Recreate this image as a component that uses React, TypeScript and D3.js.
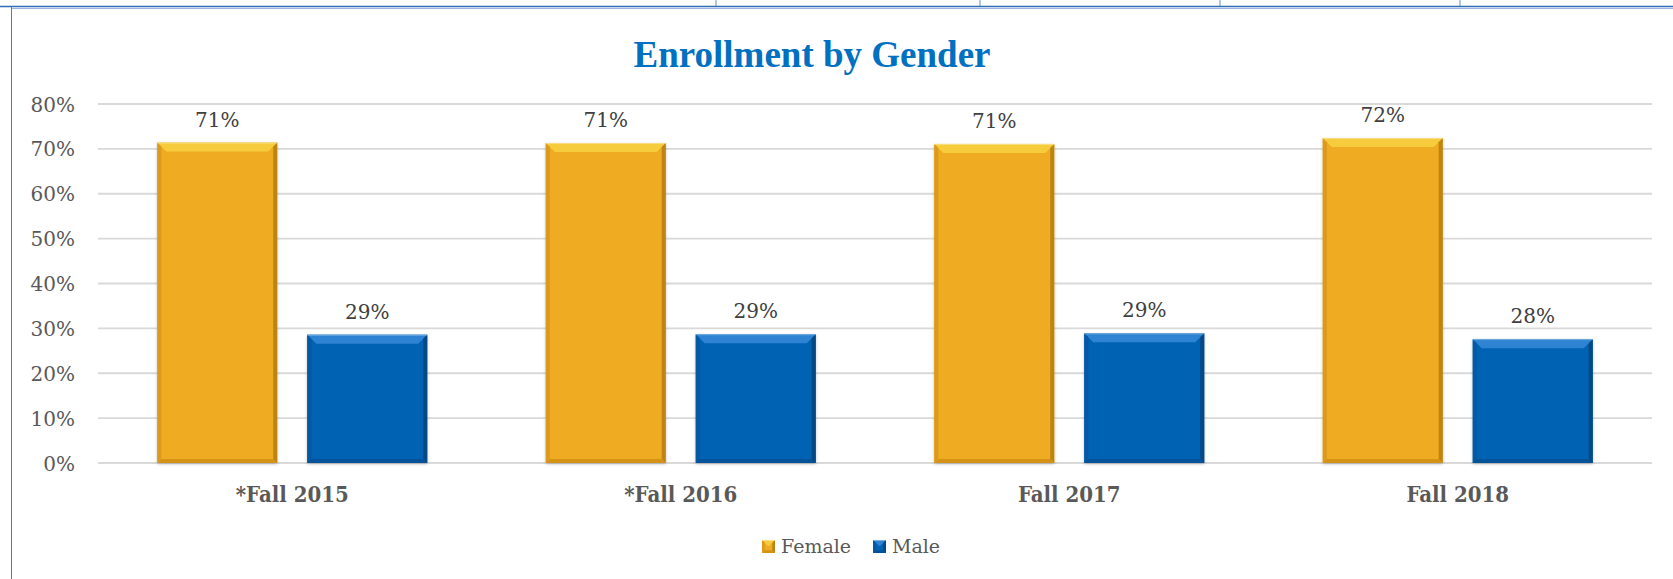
import React from "react";
import * as d3 from "d3";

const categories = ["*Fall 2015", "*Fall 2016", "Fall 2017", "Fall 2018"];
const seriesNames = ["Female", "Male"];
const femaleValues = [0.714, 0.713, 0.711, 0.724];
const maleValues = [0.286, 0.287, 0.289, 0.276];
const yTicks = [0, 0.1, 0.2, 0.3, 0.4, 0.5, 0.6, 0.7, 0.8];
const title = "Enrollment by Gender";

const W = 1673;
const H = 579;
const plot = { left: 98, right: 1652, top: 104, bottom: 463 };

const palette: Record<string, { face: string; top: string; left: string; right: string; bottom: string }> = {
  Female: { face: "#EFAC23", top: "#F6CB3C", left: "#DB9A1C", right: "#BE8412", bottom: "#D49317" },
  Male: { face: "#0662B3", top: "#2E84D2", left: "#0559A4", right: "#044884", bottom: "#0452977" .slice(0, 7) },
};

function BevelRect({ x, y, w, h, s, name, shadow }: { x: number; y: number; w: number; h: number; s: number; name: string; shadow?: boolean }) {
  const c = palette[name];
  const pts = (a: number[][]) => a.map((p) => p.join(",")).join(" ");
  const sd = s * 0.45;
  return (
    <g>
      <rect x={x} y={y} width={w} height={h} fill={c.face} filter={shadow ? "url(#sh)" : undefined} />
      <polygon points={pts([[x, y], [x + w, y], [x + w - s, y + s], [x + s, y + s]])} fill={c.top} />
      <polygon points={pts([[x, y], [x + sd, y + sd], [x + sd, y + h - sd], [x, y + h]])} fill={c.left} />
      <polygon points={pts([[x + w, y], [x + w - sd, y + sd], [x + w - sd, y + h - sd], [x + w, y + h]])} fill={c.right} />
      <polygon points={pts([[x, y + h], [x + sd, y + h - sd], [x + w - sd, y + h - sd], [x + w, y + h]])} fill={c.bottom} />
      <line x1={x} x2={x + w} y1={y + 0.5} y2={y + 0.5} stroke="#fff" strokeOpacity={0.35} />
    </g>
  );
}

export default function App() {
  const y = d3.scaleLinear().domain([0, 0.8]).range([plot.bottom, plot.top]);
  const x0 = d3.scaleBand<string>().domain(categories).range([plot.left, plot.right]).paddingInner(0).paddingOuter(0);
  const x1 = d3.scaleBand<string>().domain(seriesNames).range([0, x0.bandwidth()]).paddingInner(0.2).paddingOuter(0.395);
  const values: Record<string, number[]> = { Female: femaleValues, Male: maleValues };
  const fmt = d3.format(".0%");
  const tickFont = "'DejaVu Serif', serif";

  return (
    <svg width={W} height={H} style={{ position: "absolute", left: 0, top: 0, background: "#fff" }} xmlns="http://www.w3.org/2000/svg">
      <defs>
        <filter id="sh" x="-10%" y="-10%" width="120%" height="120%">
          <feDropShadow dx="0" dy="1" stdDeviation="1.6" floodColor="#000" floodOpacity="0.25" />
        </filter>
      </defs>
      {[716, 980, 1220, 1460].map((vx) => (
        <line key={vx} x1={vx} x2={vx} y1={0} y2={7} stroke="#6A8FC8" strokeWidth={1} />
      ))}
      <line x1={0} x2={W} y1={6.5} y2={6.5} stroke="#2E6DB8" strokeWidth={1.5} />
      <line x1={11} x2={W} y1={8.5} y2={8.5} stroke="#9DB8E0" strokeWidth={1} />
      <line x1={11.5} x2={11.5} y1={7} y2={H} stroke="#4A7CC4" strokeWidth={1} />

      <text x={812} y={67} textAnchor="middle" fontFamily="'Liberation Serif', 'Times New Roman', serif" fontWeight="bold" fontSize={37} fill="#0070C0">
        {title}
      </text>

      {yTicks.map((t) => (
        <g key={t}>
          <line x1={plot.left} x2={plot.right} y1={y(t)} y2={y(t)} stroke="#D9D9D9" strokeWidth={1.8} />
          <text x={75} y={y(t) + 7.5} textAnchor="end" fontFamily={tickFont} fontSize={20} fill="#595959">
            {fmt(t)}
          </text>
        </g>
      ))}

      {categories.map((cat, i) => (
        <g key={cat}>
          {seriesNames.map((s) => {
            const v = values[s][i];
            const bx = (x0(cat) as number) + (x1(s) as number);
            const bw = x1.bandwidth();
            const by = y(v);
            const bh = y(0) - y(v);
            return (
              <g key={s}>
                <BevelRect x={bx} y={by} w={bw} h={bh} s={9} name={s} shadow />
                <text x={bx + bw / 2} y={by - 16} textAnchor="middle" fontFamily={tickFont} fontSize={20} fill="#404040">
                  {fmt(v)}
                </text>
              </g>
            );
          })}
          <text x={(x0(cat) as number) + x0.bandwidth() / 2} y={502} textAnchor="middle" fontFamily="'DejaVu Serif Condensed', 'DejaVu Serif', serif" fontStretch="condensed" fontWeight="bold" fontSize={22} fill="#595959">
            {cat}
          </text>
        </g>
      ))}

      {seriesNames.map((s, i) => {
        const lx = i === 0 ? 762 : 873;
        return (
          <g key={s}>
            <BevelRect x={lx} y={540} w={13} h={13} s={6} name={s} />
            <text x={lx + 19} y={553} fontFamily={tickFont} fontSize={19} fill="#595959">
              {s}
            </text>
          </g>
        );
      })}
    </svg>
  );
}
